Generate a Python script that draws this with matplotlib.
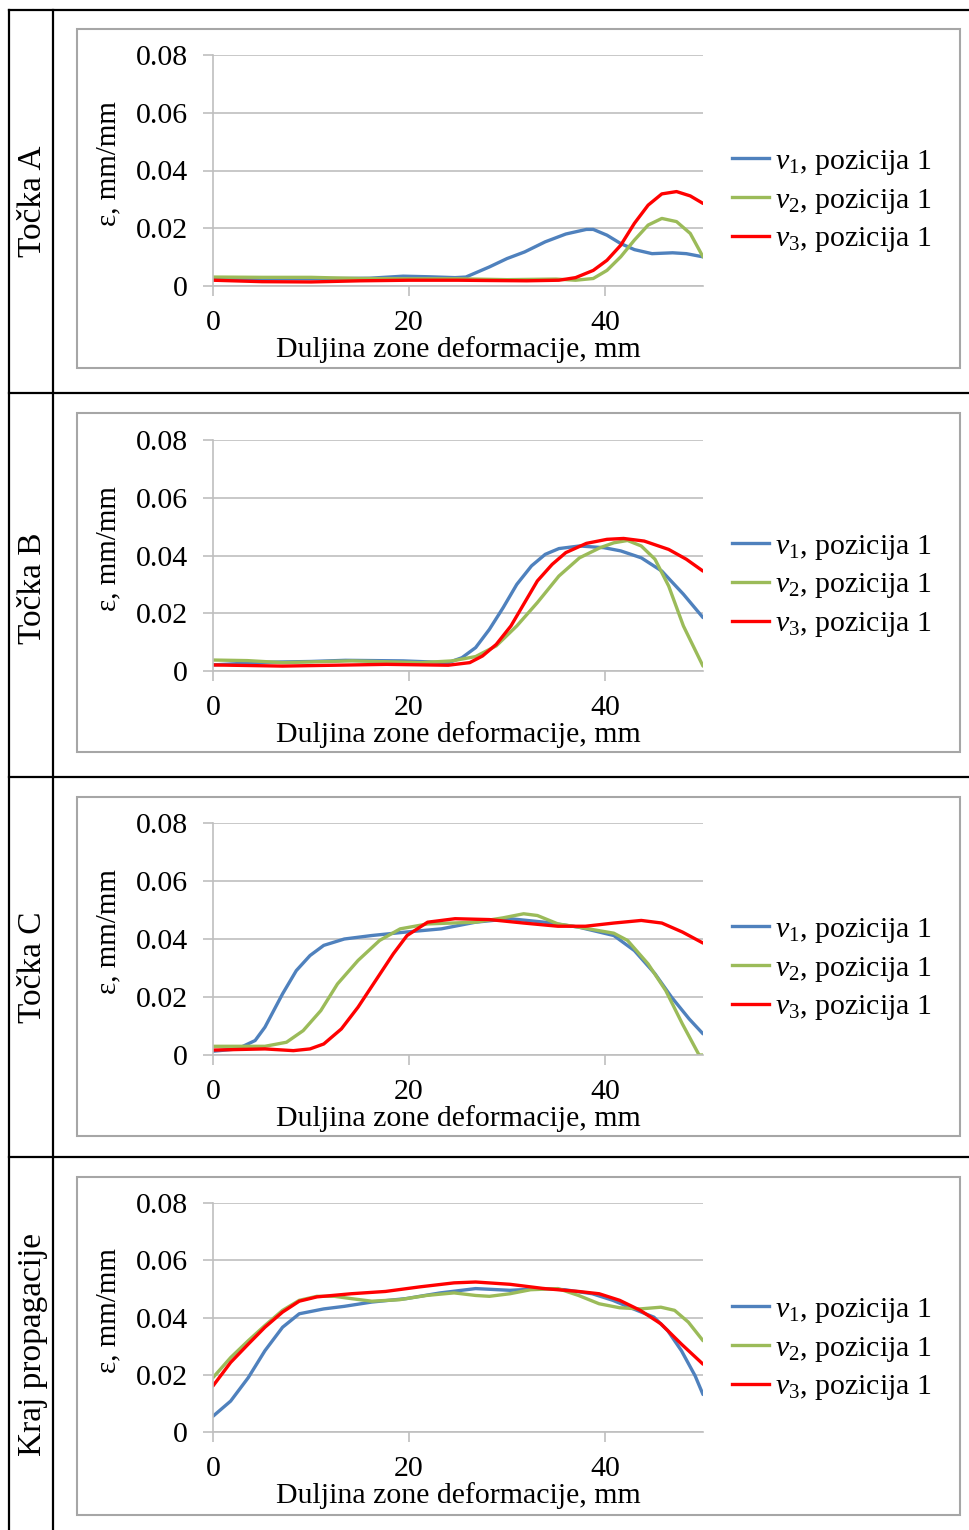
import matplotlib.pyplot as plt
from matplotlib.lines import Line2D

plt.rcParams['font.family'] = ['Liberation Serif', 'DejaVu Serif']
plt.rcParams['mathtext.fontset'] = 'custom'
plt.rcParams['mathtext.rm'] = 'Liberation Serif'
plt.rcParams['mathtext.it'] = 'Liberation Serif:italic'

row_labels = ['Točka A', 'Točka B', 'Točka C', 'Kraj propagacije']
series_labels = [r'$v_{\mathit{1}}$, pozicija 1', r'$v_{\mathit{2}}$, pozicija 1', r'$v_{\mathit{3}}$, pozicija 1']
colors = ['#4F81BD', '#9BBB59', '#FF0000']
xticks = [0, 20, 40]
yticks = [0, 0.02, 0.04, 0.06, 0.08]
ytick_labels = ['0', '0.02', '0.04', '0.06', '0.08']
xlabel = 'Duljina zone deformacije, mm'
ylabel = 'ε, mm/mm'

# Točka A
a_v1_x = [0, 5, 10, 16, 19.4, 22, 24.7, 25.8, 28.2, 30, 31.8, 33.9, 36, 38.1, 38.8, 40.2, 41.6, 43, 44.8, 46.9, 48.3, 50]
a_v1_y = [0.0026, 0.0025, 0.0025, 0.0027, 0.0034, 0.0032, 0.0029, 0.0031, 0.0066, 0.0095, 0.0118, 0.0153, 0.018, 0.0196, 0.0196, 0.0176, 0.0147, 0.0126, 0.0112, 0.0115, 0.0112, 0.0101]
a_v2_x = [0, 5, 10, 15, 20, 25, 30, 35, 37, 38.8, 40.2, 41.6, 43, 44.4, 45.8, 47.3, 48.7, 50]
a_v2_y = [0.0031, 0.003, 0.003, 0.0026, 0.0025, 0.0025, 0.0022, 0.0024, 0.002, 0.0026, 0.0054, 0.0101, 0.0159, 0.0211, 0.0234, 0.0223, 0.0182, 0.0101]
a_v3_x = [0, 5, 10, 15, 20, 25, 28.2, 32, 35.3, 37, 38.8, 40.2, 41.6, 43, 44.4, 45.8, 47.3, 48.7, 50]
a_v3_y = [0.002, 0.0015, 0.0014, 0.0018, 0.002, 0.002, 0.0019, 0.0018, 0.002, 0.0029, 0.0054, 0.0089, 0.0141, 0.0217, 0.028, 0.0319, 0.0327, 0.0312, 0.0286]

# Točka B
b_v1_x = [0, 5, 10, 13.5, 19.4, 24, 25.4, 26.8, 28.2, 29.6, 31, 32.5, 33.9, 35.3, 37.4, 39.9, 41.6, 43.7, 45.8, 48, 50]
b_v1_y = [0.0021, 0.003, 0.0033, 0.0037, 0.0035, 0.0029, 0.0046, 0.0081, 0.0144, 0.0219, 0.03, 0.0364, 0.0404, 0.0424, 0.0433, 0.0427, 0.0416, 0.0392, 0.0346, 0.0266, 0.0185]
b_v2_x = [0, 3.5, 7.1, 14.2, 21.2, 24.4, 26.8, 28.9, 31, 33.1, 35.3, 37.4, 39.5, 40.9, 42.3, 43.7, 45.1, 46.5, 48, 50]
b_v2_y = [0.0038, 0.0036, 0.0029, 0.0035, 0.0029, 0.0035, 0.005, 0.0087, 0.0156, 0.0237, 0.0329, 0.0392, 0.0427, 0.0444, 0.0452, 0.0433, 0.0387, 0.0294, 0.0156, 0.0017]
b_v3_x = [0, 7.1, 17.7, 24, 26.2, 27.5, 28.9, 30.4, 31.8, 33.1, 34.6, 36, 38.1, 40.2, 41.9, 44, 46.5, 48.3, 50]
b_v3_y = [0.0021, 0.0017, 0.0023, 0.002, 0.0029, 0.0052, 0.0092, 0.0156, 0.0237, 0.0312, 0.0369, 0.041, 0.0442, 0.0456, 0.0459, 0.045, 0.0421, 0.0387, 0.0346]

# Točka C
c_v1_x = [0, 2.5, 4.3, 5.3, 7.1, 8.5, 9.9, 11.3, 13.4, 16.2, 19.7, 23.3, 26.8, 30.3, 33.8, 37.3, 40.9, 43, 45.1, 46.8, 48.6, 50]
c_v1_y = [0.0013, 0.0021, 0.005, 0.0096, 0.0211, 0.0291, 0.0343, 0.0378, 0.04, 0.0412, 0.0424, 0.0435, 0.0458, 0.047, 0.0458, 0.0441, 0.0412, 0.036, 0.028, 0.0199, 0.0124, 0.0073]
c_v2_x = [0, 5.3, 7.5, 9.2, 11, 12.7, 14.8, 17, 19.1, 21.9, 26.8, 29.6, 31.7, 33.1, 35.2, 37.3, 40.9, 42.3, 44.4, 46.2, 47.9, 49.6, 50]
c_v2_y = [0.003, 0.003, 0.0044, 0.0084, 0.0153, 0.0245, 0.0326, 0.0395, 0.0435, 0.0452, 0.0458, 0.0473, 0.0487, 0.0481, 0.0452, 0.0441, 0.042, 0.0395, 0.0314, 0.0222, 0.0107, 0.0, 0.0]
c_v3_x = [0, 5.3, 8.2, 9.9, 11.3, 13.1, 14.8, 16.6, 18.4, 19.8, 21.9, 24.7, 28.2, 31.7, 35.2, 38, 40.9, 43.7, 45.8, 47.9, 50]
c_v3_y = [0.0017, 0.0021, 0.0015, 0.0021, 0.0038, 0.009, 0.0165, 0.0257, 0.0349, 0.0412, 0.0458, 0.047, 0.0467, 0.0455, 0.0444, 0.0444, 0.0455, 0.0464, 0.0455, 0.0424, 0.0386]

# Kraj propagacije
d_v1_x = [0, 1.8, 3.6, 5.3, 7.1, 8.8, 11.3, 13.4, 16.2, 19.7, 23.2, 26.8, 30.3, 33.8, 35.9, 38.7, 40.8, 42.9, 45, 46.4, 47.8, 49.2, 50]
d_v1_y = [0.0055, 0.0108, 0.019, 0.0284, 0.0366, 0.0413, 0.043, 0.0439, 0.0454, 0.0466, 0.0486, 0.0501, 0.0495, 0.0501, 0.0497, 0.0483, 0.046, 0.043, 0.0401, 0.0354, 0.0284, 0.0196, 0.0131]
d_v2_x = [0, 1.8, 3.6, 5.3, 7.1, 8.8, 10.6, 12.4, 14.1, 16.2, 19, 21.8, 24.6, 26.8, 28.2, 30.3, 32.4, 35.2, 37.3, 39.4, 41.5, 43.6, 45.7, 47.1, 48.5, 50]
d_v2_y = [0.019, 0.026, 0.0319, 0.0372, 0.0425, 0.046, 0.0474, 0.0474, 0.0466, 0.0457, 0.0462, 0.0477, 0.0486, 0.0477, 0.0474, 0.0483, 0.0497, 0.0501, 0.0477, 0.0448, 0.0434, 0.043, 0.0436, 0.0425, 0.0384, 0.0319]
d_v3_x = [0, 1.8, 3.6, 5.3, 7.1, 8.8, 10.6, 14.1, 17.6, 21.1, 24.6, 26.8, 30.3, 33.8, 37.3, 39.4, 41.5, 43.6, 45.7, 47.8, 50]
d_v3_y = [0.0161, 0.0243, 0.0307, 0.0366, 0.0419, 0.0457, 0.0472, 0.0483, 0.0491, 0.0507, 0.0521, 0.0524, 0.0516, 0.0501, 0.0491, 0.0483, 0.046, 0.0425, 0.0378, 0.0307, 0.0237]

panels = [
    [(a_v1_x, a_v1_y), (a_v2_x, a_v2_y), (a_v3_x, a_v3_y)],
    [(b_v1_x, b_v1_y), (b_v2_x, b_v2_y), (b_v3_x, b_v3_y)],
    [(c_v1_x, c_v1_y), (c_v2_x, c_v2_y), (c_v3_x, c_v3_y)],
    [(d_v1_x, d_v1_y), (d_v2_x, d_v2_y), (d_v3_x, d_v3_y)],
]

W, H = 970, 1530
fig = plt.figure(figsize=(W / 100, H / 100), dpi=100)

def fx(px):
    return px / W

def fy(py):
    return 1 - py / H

# table grid
tbl = dict(color='black', lw=1.6, transform=fig.transFigure)
fig.add_artist(Line2D([fx(9), fx(9)], [fy(10), fy(H)], **tbl))
fig.add_artist(Line2D([fx(53), fx(53)], [fy(10), fy(H)], **tbl))
for yy in [10, 393, 777, 1157]:
    fig.add_artist(Line2D([fx(9), fx(W)], [fy(yy), fy(yy)], **tbl))

row_mid = [201, 588, 967, 1345]
box_y = [(29, 368), (413, 752), (797, 1136), (1177, 1515)]
ax_y = [(55, 286), (440, 671), (823, 1055), (1203, 1432)]
grey = '#A6A6A6'

for i in range(4):
    fig.text(fx(33), fy(row_mid[i]), row_labels[i], rotation=90, ha='center', va='center', fontsize=24)
    b0, b1 = box_y[i]
    fig.add_artist(plt.Rectangle((fx(77), fy(b1)), fx(960) - fx(77), fy(b0) - fy(b1),
                                 fill=False, ec=grey, lw=1.5, transform=fig.transFigure))
    t, b = ax_y[i]
    ax = fig.add_axes([fx(213), fy(b), fx(703) - fx(213), fy(t) - fy(b)])
    for (xs, ys), c in zip(panels[i], colors):
        ax.plot(xs, ys, color=c, lw=2.4, solid_capstyle='round', solid_joinstyle='round')
    ax.set_xlim(0, 50)
    ax.set_ylim(0, 0.08)
    ax.set_xticks(xticks)
    ax.set_yticks(yticks)
    ax.set_yticklabels(ytick_labels)
    ax.yaxis.grid(True, color='#BFBFBF', lw=1.2)
    ax.set_axisbelow(True)
    for s in ['top', 'right']:
        ax.spines[s].set_visible(False)
    ax.spines['left'].set_color('#BFBFBF')
    ax.spines['bottom'].set_color('#BFBFBF')
    ax.spines['left'].set_linewidth(1.2)
    ax.spines['bottom'].set_linewidth(1.2)
    ax.tick_params(axis='both', direction='out', length=7, width=1.2, color='#BFBFBF', labelsize=21.5)
    ax.tick_params(axis='y', pad=11)
    ax.tick_params(axis='x', pad=10)
    ax.set_xlabel(xlabel, fontsize=21.5)
    ax.set_ylabel(ylabel, fontsize=21)
    ax.yaxis.set_label_coords((121 - 213) / (703 - 213), 0.53)
    ax.xaxis.set_label_coords(0.5, -50 / (b - t))
    handles = [Line2D([], [], color=c, lw=2.4) for c in colors]
    fig.legend(handles, series_labels, loc='center left',
               bbox_to_anchor=(fx(717), fy(t + 146)), frameon=False, fontsize=21.5,
               handlelength=1.25, handletextpad=0.2, labelspacing=0.32, borderpad=0)

fig.savefig('out.png', dpi=100)
